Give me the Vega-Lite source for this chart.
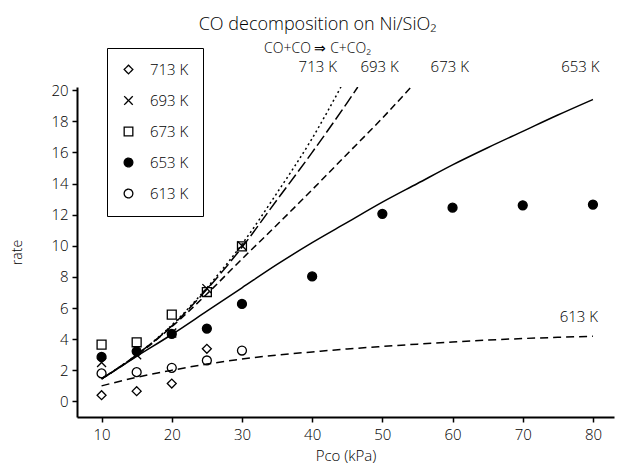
{
  "$schema": "https://vega.github.io/schema/vega-lite/v6.json",
  "width": 537,
  "height": 330,
  "autosize": "none",
  "padding": {"left": 77, "top": 87, "right": 3, "bottom": 51},
  "background": "white",
  "title": {
    "text": "CO decomposition on Ni/SiO₂",
    "subtitle": "CO+CO ⇒ C+CO₂",
    "anchor": "middle",
    "dx": -28,
    "offset": -8,
    "fontSize": 18,
    "subtitleFontSize": 14,
    "font": "Open Sans",
    "subtitleFont": "Open Sans",
    "fontWeight": 300,
    "subtitleFontWeight": 300,
    "color": "black",
    "subtitleColor": "black",
    "subtitlePadding": 8
  },
  "config": {
    "view": {"stroke": null},
    "font": "Open Sans",
    "axis": {
      "grid": false,
      "domainColor": "black",
      "domainWidth": 2,
      "tickColor": "black",
      "tickWidth": 1.5,
      "labelColor": "black",
      "titleColor": "black",
      "labelFont": "Open Sans",
      "titleFont": "Open Sans",
      "labelFontWeight": 300,
      "titleFontWeight": 300
    }
  },
  "datasets": {
    "points": [
      {"P": 10, "rate": 0.4, "T": "713 K"},
      {"P": 15, "rate": 0.66, "T": "713 K"},
      {"P": 20, "rate": 1.15, "T": "713 K"},
      {"P": 25, "rate": 3.38, "T": "713 K"},
      {"P": 10, "rate": 2.5, "T": "693 K"},
      {"P": 15, "rate": 3.0, "T": "693 K"},
      {"P": 20, "rate": 4.4, "T": "693 K"},
      {"P": 25, "rate": 7.25, "T": "693 K"},
      {"P": 30, "rate": 10.0, "T": "693 K"},
      {"P": 10, "rate": 3.65, "T": "673 K"},
      {"P": 15, "rate": 3.8, "T": "673 K"},
      {"P": 20, "rate": 5.58, "T": "673 K"},
      {"P": 25, "rate": 7.03, "T": "673 K"},
      {"P": 30, "rate": 9.96, "T": "673 K"},
      {"P": 10, "rate": 2.86, "T": "653 K"},
      {"P": 15, "rate": 3.22, "T": "653 K"},
      {"P": 20, "rate": 4.34, "T": "653 K"},
      {"P": 25, "rate": 4.68, "T": "653 K"},
      {"P": 30, "rate": 6.26, "T": "653 K"},
      {"P": 40, "rate": 8.03, "T": "653 K"},
      {"P": 50, "rate": 12.05, "T": "653 K"},
      {"P": 60, "rate": 12.45, "T": "653 K"},
      {"P": 70, "rate": 12.6, "T": "653 K"},
      {"P": 80, "rate": 12.65, "T": "653 K"},
      {"P": 10, "rate": 1.8, "T": "613 K"},
      {"P": 15, "rate": 1.88, "T": "613 K"},
      {"P": 20, "rate": 2.16, "T": "613 K"},
      {"P": 25, "rate": 2.63, "T": "613 K"},
      {"P": 30, "rate": 3.27, "T": "613 K"}
    ],
    "curves": [
      {"P": 10, "rate": 1.45, "curve": "713 K"},
      {"P": 15, "rate": 3.0, "curve": "713 K"},
      {"P": 20, "rate": 4.9, "curve": "713 K"},
      {"P": 25, "rate": 7.3, "curve": "713 K"},
      {"P": 30, "rate": 10.1, "curve": "713 K"},
      {"P": 35, "rate": 13.4, "curve": "713 K"},
      {"P": 40, "rate": 16.9, "curve": "713 K"},
      {"P": 44.1, "rate": 20.2, "curve": "713 K"},
      {"P": 10, "rate": 1.45, "curve": "693 K"},
      {"P": 15, "rate": 3.0, "curve": "693 K"},
      {"P": 20, "rate": 4.85, "curve": "693 K"},
      {"P": 25, "rate": 7.2, "curve": "693 K"},
      {"P": 30, "rate": 9.9, "curve": "693 K"},
      {"P": 35, "rate": 12.95, "curve": "693 K"},
      {"P": 40, "rate": 16.0, "curve": "693 K"},
      {"P": 45, "rate": 19.2, "curve": "693 K"},
      {"P": 46.5, "rate": 20.2, "curve": "693 K"},
      {"P": 10, "rate": 1.45, "curve": "673 K"},
      {"P": 15, "rate": 2.95, "curve": "673 K"},
      {"P": 20, "rate": 4.8, "curve": "673 K"},
      {"P": 25, "rate": 6.9, "curve": "673 K"},
      {"P": 30, "rate": 9.15, "curve": "673 K"},
      {"P": 35, "rate": 11.35, "curve": "673 K"},
      {"P": 40, "rate": 13.6, "curve": "673 K"},
      {"P": 45, "rate": 15.9, "curve": "673 K"},
      {"P": 50, "rate": 18.2, "curve": "673 K"},
      {"P": 54.1, "rate": 20.2, "curve": "673 K"},
      {"P": 10, "rate": 1.45, "curve": "653 K"},
      {"P": 15, "rate": 2.9, "curve": "653 K"},
      {"P": 20, "rate": 4.3, "curve": "653 K"},
      {"P": 25, "rate": 5.8, "curve": "653 K"},
      {"P": 30, "rate": 7.3, "curve": "653 K"},
      {"P": 35, "rate": 8.8, "curve": "653 K"},
      {"P": 40, "rate": 10.2, "curve": "653 K"},
      {"P": 45, "rate": 11.5, "curve": "653 K"},
      {"P": 50, "rate": 12.8, "curve": "653 K"},
      {"P": 55, "rate": 14.0, "curve": "653 K"},
      {"P": 60, "rate": 15.2, "curve": "653 K"},
      {"P": 65, "rate": 16.3, "curve": "653 K"},
      {"P": 70, "rate": 17.35, "curve": "653 K"},
      {"P": 75, "rate": 18.4, "curve": "653 K"},
      {"P": 80, "rate": 19.4, "curve": "653 K"},
      {"P": 10, "rate": 1.0, "curve": "613 K"},
      {"P": 15, "rate": 1.55, "curve": "613 K"},
      {"P": 20, "rate": 2.0, "curve": "613 K"},
      {"P": 25, "rate": 2.4, "curve": "613 K"},
      {"P": 30, "rate": 2.72, "curve": "613 K"},
      {"P": 35, "rate": 2.98, "curve": "613 K"},
      {"P": 40, "rate": 3.18, "curve": "613 K"},
      {"P": 45, "rate": 3.37, "curve": "613 K"},
      {"P": 50, "rate": 3.53, "curve": "613 K"},
      {"P": 55, "rate": 3.68, "curve": "613 K"},
      {"P": 60, "rate": 3.82, "curve": "613 K"},
      {"P": 65, "rate": 3.94, "curve": "613 K"},
      {"P": 70, "rate": 4.04, "curve": "613 K"},
      {"P": 75, "rate": 4.12, "curve": "613 K"},
      {"P": 80, "rate": 4.19, "curve": "613 K"}
    ],
    "labels": [
      {"P": 40.8, "rate": 21.5, "label": "713 K"},
      {"P": 49.6, "rate": 21.5, "label": "693 K"},
      {"P": 59.6, "rate": 21.5, "label": "673 K"},
      {"P": 78.2, "rate": 21.5, "label": "653 K"},
      {"P": 78.0, "rate": 5.45, "label": "613 K"}
    ]
  },
  "encoding": {
    "x": {
      "field": "P", "type": "quantitative",
      "scale": {"domain": [6.5, 83], "nice": false, "zero": false},
      "axis": {
        "orient": "bottom",
        "values": [10, 20, 30, 40, 50, 60, 70, 80],
        "tickSize": 5,
        "labelPadding": 5,
        "labelFontSize": 15,
        "title": "Pco (kPa)",
        "titleFontSize": 15,
        "titlePadding": 6
      }
    },
    "y": {
      "field": "rate", "type": "quantitative",
      "scale": {"domain": [-1, 20.2], "nice": false, "zero": false},
      "axis": {
        "orient": "left",
        "values": [0, 2, 4, 6, 8, 10, 12, 14, 16, 18, 20],
        "tickSize": 5,
        "labelPadding": 4,
        "labelFontSize": 15,
        "title": "rate",
        "titleFontSize": 14,
        "titlePadding": 26
      }
    }
  },
  "layer": [
    {
      "data": {"name": "points"},
      "mark": {"type": "point", "filled": true, "stroke": "black", "strokeWidth": 1.3, "opacity": 1, "size": 80, "clip": true},
      "encoding": {
        "shape": {
          "field": "T", "type": "nominal",
          "scale": {
            "domain": ["713 K", "693 K", "673 K", "653 K", "613 K"],
            "range": ["diamond", "M-1,-1L1,1M-1,1L1,-1", "square", "circle", "circle"]
          },
          "legend": {
            "title": null,
            "orient": "none",
            "legendX": 30,
            "legendY": -39,
            "strokeColor": "black",
            "fillColor": "white",
            "padding": 14,
            "rowPadding": 15,
            "labelFontSize": 15,
            "labelFont": "Open Sans",
            "labelFontWeight": 300,
            "labelColor": "black",
            "labelOffset": 14,
            "symbolStrokeColor": "black",
            "symbolStrokeWidth": 1.3,
            "symbolDash": [1, 0],
            "symbolSize": 75
          }
        },
        "color": {
          "field": "T", "type": "nominal",
          "scale": {
            "domain": ["713 K", "693 K", "673 K", "653 K", "613 K"],
            "range": ["transparent", "transparent", "transparent", "black", "transparent"]
          },
          "legend": {
            "title": null,
            "orient": "none",
            "legendX": 30,
            "legendY": -39,
            "strokeColor": "black",
            "fillColor": "white",
            "padding": 14,
            "rowPadding": 15,
            "labelFontSize": 15,
            "labelFont": "Open Sans",
            "labelFontWeight": 300,
            "labelColor": "black",
            "labelOffset": 14,
            "symbolStrokeColor": "black",
            "symbolStrokeWidth": 1.3,
            "symbolDash": [1, 0],
            "symbolSize": 75
          }
        }
      }
    },
    {
      "data": {"name": "curves"},
      "transform": [{"filter": "datum.curve === '713 K'"}],
      "mark": {"type": "line", "color": "black", "strokeWidth": 1.5, "interpolate": "monotone", "strokeDash": [2, 3], "clip": true},
      "encoding": {}
    },
    {
      "data": {"name": "curves"},
      "transform": [{"filter": "datum.curve === '693 K'"}],
      "mark": {"type": "line", "color": "black", "strokeWidth": 1.5, "interpolate": "monotone", "strokeDash": [12, 4], "clip": true},
      "encoding": {}
    },
    {
      "data": {"name": "curves"},
      "transform": [{"filter": "datum.curve === '673 K'"}],
      "mark": {"type": "line", "color": "black", "strokeWidth": 1.5, "interpolate": "monotone", "strokeDash": [7, 4], "clip": true},
      "encoding": {}
    },
    {
      "data": {"name": "curves"},
      "transform": [{"filter": "datum.curve === '653 K'"}],
      "mark": {"type": "line", "color": "black", "strokeWidth": 1.5, "interpolate": "monotone", "clip": true},
      "encoding": {}
    },
    {
      "data": {"name": "curves"},
      "transform": [{"filter": "datum.curve === '613 K'"}],
      "mark": {"type": "line", "color": "black", "strokeWidth": 1.5, "interpolate": "monotone", "strokeDash": [8, 5], "clip": true},
      "encoding": {}
    },
    {
      "data": {"name": "labels"},
      "mark": {"type": "text", "fontSize": 15, "font": "Open Sans", "fontWeight": 300, "color": "black", "clip": false},
      "encoding": {
        "text": {"field": "label"}
      }
    }
  ]
}
